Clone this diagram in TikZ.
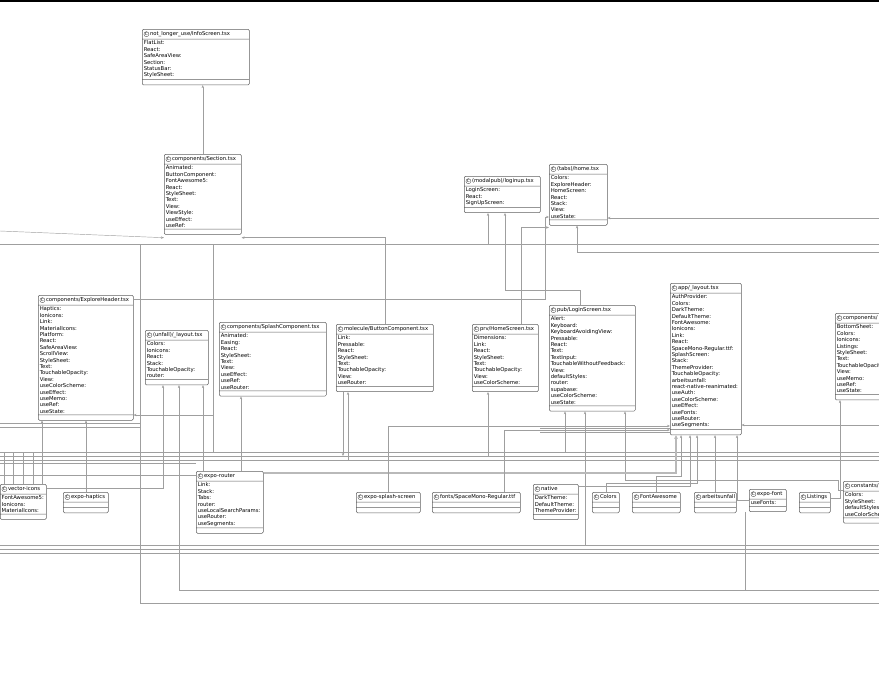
\documentclass[tikz,border=0pt]{standalone}
\usepackage{fontspec}
\setmainfont{DejaVu Sans}
\usepackage{tikz}
\usetikzlibrary{positioning,arrows.meta,shapes.multipart,calc}

\newcommand{\clsfont}{\fontsize{5.3}{6.4}\selectfont\hyphenpenalty=10000\exhyphenpenalty=10000}
% circled C in front of a class name
\newcommand{\cbadge}{\tikz[baseline=(cb.base)]\node[circle, draw=gray!60!black,
  line width=0.35pt, inner sep=0.25pt, font=\fontsize{4.2}{4.2}\selectfont] (cb) {C};}
% one class box: name, x, y, width, title, fields
\newcommand{\umlcls}[6]{%
  \node[umlbox, text width=#4pt-3pt, anchor=north west] (#1) at (#2,#3)
    {\centering\rule[-1.8pt]{0pt}{6.6pt}\cbadge\,#5\nodepart{two}#6\nodepart{three}\rule{0pt}{2pt}};}

\tikzset{
  umlbox/.style={rectangle split, rectangle split parts=3, draw=gray!75!black,
    line width=0.5pt, fill=white, rounded corners=1.2pt, inner xsep=1.5pt,
    inner ysep=1.4pt, align=left, font=\clsfont},
  dep/.style={draw=gray!75, line width=0.45pt, -{Stealth[length=3pt,width=2.4pt]}},
  wire/.style={draw=gray!75, line width=0.45pt},
  bundle/.style={draw=gray!55, line width=2.2pt},
}

\begin{document}
\begin{tikzpicture}[x=1pt, y=-1pt]
  \useasboundingbox (0,0) rectangle (879,680);
  \fill[black] (0,0) rectangle (879,1.6);

  % long wires behind the boxes
  \foreach \yy in {545,549,553} {\draw[wire] (0,\yy) -- (879,\yy);}
  \foreach \yy in {452,456,460} {\draw[wire] (0,\yy) -- (879,\yy);}
  \foreach \yy in {423,427} {\draw[wire] (0,\yy) -- (140,\yy);}
  \foreach \xx in {4,13,23,33} {\draw[wire] (\xx,452) -- (\xx,484);}
  \draw[wire] (0,463) -- (196,463);
  \draw[wire] (0,475) -- (196,475);
  \draw[wire] (140,244) -- (140,603) -- (879,603);
  \draw[wire] (213,244) -- (213,452);
  \draw[wire] (0,244) -- (879,244);

  % top row
  \umlcls{info}{142}{29}{107}{not\_longer\_use/InfoScreen.tsx}{FlatList:\\React:\\SafeAreaView:\\Section:\\StatusBar:\\StyleSheet:}
  \umlcls{section}{164}{154}{77}{components/Section.tsx}{Animated:\\ButtonComponent:\\FontAwesome5:\\React:\\StyleSheet:\\Text:\\View:\\ViewStyle:\\useEffect:\\useRef:}
  \umlcls{loginup}{464}{176}{76}{(modalpub)/loginup.tsx}{LoginScreen:\\React:\\SignUpScreen:}
  \umlcls{home}{549}{164}{58}{(tabs)/home.tsx}{Colors:\\ExploreHeader:\\HomeScreen:\\React:\\Stack:\\View:\\useState:}

  % middle row
  \umlcls{explore}{38}{295}{95}{components/ExploreHeader.tsx}{Haptics:\\Ionicons:\\Link:\\MaterialIcons:\\Platform:\\React:\\SafeAreaView:\\ScrollView:\\StyleSheet:\\Text:\\TouchableOpacity:\\View:\\useColorScheme:\\useEffect:\\useMemo:\\useRef:\\useState:}
  \umlcls{unfall}{145}{330}{63}{(unfall)/\_layout.tsx}{Colors:\\Ionicons:\\React:\\Stack:\\TouchableOpacity:\\router:}
  \umlcls{splash}{219}{322}{107}{components/SplashComponent.tsx}{Animated:\\Easing:\\React:\\StyleSheet:\\Text:\\View:\\useEffect:\\useRef:\\useRouter:}
  \umlcls{button}{336}{324}{97}{molecule/ButtonComponent.tsx}{Link:\\Pressable:\\React:\\StyleSheet:\\Text:\\TouchableOpacity:\\View:\\useRouter:}
  \umlcls{homescr}{472}{324}{66}{prv/HomeScreen.tsx}{Dimensions:\\Link:\\React:\\StyleSheet:\\Text:\\TouchableOpacity:\\View:\\useColorScheme:}
  \umlcls{loginscr}{549}{305}{86}{pub/LoginScreen.tsx}{Alert:\\Keyboard:\\KeyboardAvoidingView:\\Pressable:\\React:\\Text:\\TextInput:\\TouchableWithoutFeedback:\\View:\\defaultStyles:\\router:\\supabase:\\useColorScheme:\\useState:}
  \umlcls{applayout}{670}{283}{71}{app/\_layout.tsx}{AuthProvider:\\Colors:\\DarkTheme:\\DefaultTheme:\\FontAwesome:\\Ionicons:\\Link:\\React:\\SpaceMono-Regular.ttf:\\SplashScreen:\\Stack:\\ThemeProvider:\\TouchableOpacity:\\arbeitsunfall:\\react-native-reanimated:\\useAuth:\\useColorScheme:\\useEffect:\\useFonts:\\useRouter:\\useSegments:}
  \node[umlbox, text width=66pt, anchor=north west] (compright) at (835,313)
    {\rule[-1.8pt]{0pt}{6.6pt}\cbadge\,components/\nodepart{two}BottomSheet:\\Colors:\\Ionicons:\\Listings:\\StyleSheet:\\Text:\\TouchableOpacity:\\View:\\useMemo:\\useRef:\\useState:\nodepart{three}\rule{0pt}{2pt}};

  % bottom row
  \umlcls{vecicons}{0}{484}{46}{vector-icons}{FontAwesome5:\\Ionicons:\\MaterialIcons:}
  \umlcls{haptics}{63}{492}{45}{expo-haptics}{\rule{0pt}{2pt}}
  \umlcls{router}{196}{471}{67}{expo-router}{Link:\\Stack:\\Tabs:\\router:\\useLocalSearchParams:\\useRouter:\\useSegments:}
  \umlcls{splashscr}{356}{492}{64}{expo-splash-screen}{\rule{0pt}{2pt}}
  \umlcls{spacemono}{432}{492}{88}{fonts/SpaceMono-Regular.ttf}{\rule{0pt}{2pt}}
  \umlcls{native}{533}{484}{45}{native}{DarkTheme:\\DefaultTheme:\\ThemeProvider:}
  \umlcls{colors}{592}{492}{27}{Colors}{\rule{0pt}{2pt}}
  \umlcls{fontaw}{632}{492}{48}{FontAwesome}{\rule{0pt}{2pt}}
  \umlcls{arbeit}{694}{492}{42}{arbeitsunfall}{\rule{0pt}{2pt}}
  \umlcls{expofont}{749}{489}{37}{expo-font}{useFonts:}
  \umlcls{listings}{799}{492}{31}{Listings}{\rule{0pt}{2pt}}
  \node[umlbox, text width=60pt, anchor=north west] (constants) at (843,481)
    {\rule[-1.8pt]{0pt}{6.6pt}\cbadge\,constants/\nodepart{two}Colors:\\StyleSheet:\\defaultStyles:\\useColorScheme:\nodepart{three}\rule{0pt}{2pt}};

  % dependencies
  \draw[dep] (section.north) -- (section.north |- info.south);
  \draw[dep] (0,231) -- ([yshift=-3pt]section.south west);
  \draw[dep] (button.north) |- ([yshift=-3pt]section.south east);
  \draw[dep] (homescr.north -| 521,0) |- ([yshift=-2pt]home.south west);
  \draw[dep] (explore.north east |- 0,299) -| (545,217) -- (home.west |- 0,217);
  \draw[dep] (loginscr.north -| 580,0) |- (505,290) -- (loginup.south -| 505,0);
  \draw[dep] (0,244) -| (loginup.south -| 488,0);
  \draw[dep] (879,252) -| (home.south -| 577,0);
  \draw[dep] (879,218) -- (home.east |- 0,218);
  \draw[dep] (213,415) -- (explore.east |- 0,415);
  \draw[dep] (vecicons.north -| 42,0) -- (explore.south -| 42,0);
  \draw[dep] (haptics.north -| 86,0) -- (explore.south -| 86,0);
  \draw[dep] (vecicons.east |- 0,488) -| (unfall.south -| 163,0);
  \draw[dep] (879,590) -| (unfall.south -| 179,0);
  \draw[dep] (router.north -| 203,0) -- (unfall.south -| 203,0);
  \draw[dep] (router.north -| 241,0) -- (splash.south -| 241,0);
  \draw[dep] (button.south -| 343,0) -- (343,456);
  \draw[dep] (348,460) -- (button.south -| 348,0);
  \draw[dep] (488,456) -- (homescr.south -| 488,0);
  \draw[dep] (565,452) -- (loginscr.south -| 565,0);
  \draw[dep] (585,545) -- (loginscr.south -| 585,0);
  \draw[dep] (constants.west |- 0,490) -- (838,490) -- (838,480) -| (loginscr.south -| 625,0);
  \draw[wire] (540,428) -- (670,428);
  \draw[wire] (540,432) -- (670,432);
  \draw[bundle, -{Stealth[length=4pt,width=4pt]}] (router.east |- 0,473) -| ([xshift=6pt]applayout.south west);
  \draw[dep] (splashscr.north) |- (applayout.west |- 0,426);
  \draw[dep] (spacemono.north -| 504,0) |- (applayout.west |- 0,430);
  \draw[dep] (native.east |- 0,486) -| (applayout.south -| 690,0);
  \draw[dep] (colors.north) |- (697,483) -- (applayout.south -| 697,0);
  \draw[dep] (fontaw.north) |- ([xshift=11pt]applayout.south west |- 0,476) -- ([xshift=11pt]applayout.south west);
  \draw[dep] (arbeit.north -| 715,0) -- (applayout.south -| 715,0);
  \draw[dep] (expofont.west |- 0,500) -| (applayout.south -| 737,0);
  \draw[wire] (expofont.south -| 745,0) -- (745,590);
  \draw[dep] (879,425) -- (applayout.east |- 0,425);
  \draw[dep] (listings.east |- 0,498) -| (compright.south -| 840,0);
\end{tikzpicture}
\end{document}
